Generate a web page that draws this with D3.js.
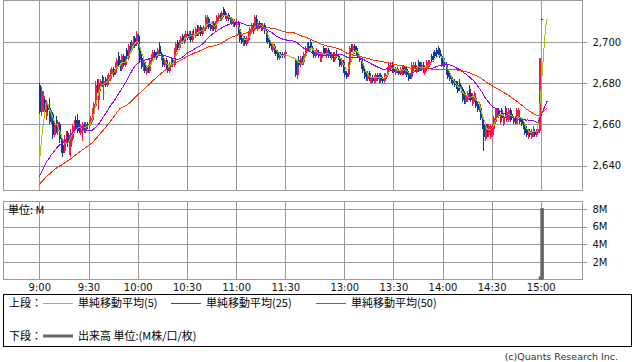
<!DOCTYPE html>
<html>
<head>
<meta charset="utf-8">
<script src="https://cdnjs.cloudflare.com/ajax/libs/d3/7.8.5/d3.min.js"></script>
<style>
body { margin: 0; background: #fff; }
svg text { font-family: "DejaVu Sans", sans-serif; }
.jp { font-family: "Noto Sans CJK JP", sans-serif; }
</style>
</head>
<body>
<div id="chart"></div>
<script>
// closes of the previous session, needed so the averages start at 9:00
var prevCloses = [2626,2627,2625,2626,2628,2627,2626,2625,2626,2627,2628,2627,2626,2627,2628,2626,2625,2626,2627,2628,2629,2628,2627,2628,2629,
	2630,2631,2632,2631,2632,2633,2632,2633,2634,2633,2632,2633,2634,2635,2634,2633,2634,2635,2634,2635,2634,2635,2636,2635];

// morning 1 minute bars 9:00 - 11:30 [open, high, low, close]
var amBars = [
[2679,2680,2665,2666],[2666,2678,2664,2676],[2668,2676,2666,2674],[2672,2673,2664,2666],[2664,2672,2662,2670],
[2669,2670,2666,2667],[2668,2673,2660,2661],[2661,2667,2660,2666],[2665,2666,2653,2655],[2655,2662,2654,2660],
[2662,2664,2656,2657],[2657,2662,2655,2661],[2660,2661,2651,2653],[2653,2654,2646,2648],[2650,2652,2644,2646],
[2647,2655,2646,2653],[2653,2657,2651,2655],[2656,2657,2649,2651],[2650,2655,2645,2653],[2649,2658,2644,2656],
[2653,2660,2652,2659],[2657,2662,2656,2661],[2662,2664,2657,2658],[2662,2665,2656,2657],[2660,2662,2656,2657],
[2656,2660,2655,2659],[2657,2661,2652,2660],[2660,2661,2656,2657],[2657,2661,2656,2660],[2660,2661,2658,2659],
[2659,2662,2658,2661],[2660,2664,2659,2663],[2662,2668,2661,2667],[2665,2671,2664,2670],[2669,2681,2668,2679],
[2681,2682,2675,2676],[2672,2682,2667,2680],[2678,2682,2676,2681],[2683,2684,2678,2679],[2679,2682,2672,2681],
[2682,2683,2678,2679],[2679,2684,2678,2683],[2681,2685,2679,2684],[2682,2687,2681,2686],[2684,2688,2683,2687],
[2687,2688,2683,2684],[2685,2690,2684,2689],[2687,2692,2686,2691],[2693,2695,2688,2689],[2689,2691,2686,2687],
[2687,2694,2686,2693],[2693,2694,2688,2689],[2689,2693,2688,2692],[2696,2697,2691,2692],[2692,2699,2691,2698],
[2699,2700,2695,2696],[2696,2701,2695,2700],[2698,2703,2697,2702],[2702,2703,2697,2698],[2699,2705,2698,2704],
[2703,2704,2696,2697],[2697,2698,2690,2691],[2692,2694,2687,2688],[2688,2692,2686,2691],[2690,2691,2685,2686],
[2685,2689,2684,2688],[2688,2689,2685,2686],[2686,2692,2685,2691],[2690,2694,2689,2693],[2692,2696,2691,2695],
[2695,2696,2691,2692],[2693,2695,2691,2692],[2693,2697,2692,2696],[2698,2700,2693,2694],[2694,2695,2691,2692],
[2693,2694,2688,2689],[2689,2692,2688,2691],[2691,2692,2687,2688],[2688,2689,2685,2686],[2686,2690,2685,2689],
[2689,2692,2688,2691],[2691,2692,2688,2689],[2689,2697,2688,2696],[2695,2700,2694,2699],[2700,2701,2696,2697],
[2697,2701,2696,2700],[2699,2703,2698,2702],[2703,2704,2699,2700],[2700,2704,2699,2703],[2702,2705,2701,2704],
[2704,2705,2701,2702],[2702,2705,2701,2704],[2704,2705,2700,2701],[2701,2705,2700,2704],[2704,2706,2702,2703],
[2703,2707,2702,2706],[2706,2708,2703,2704],[2704,2708,2703,2707],[2707,2708,2703,2704],[2704,2707,2703,2706],
[2705,2708,2704,2707],[2706,2713,2705,2712],[2708,2713,2707,2712],[2711,2712,2706,2707],[2708,2709,2705,2706],
[2706,2710,2705,2709],[2709,2710,2705,2706],[2706,2710,2705,2709],[2709,2713,2708,2712],[2711,2714,2710,2713],
[2713,2714,2710,2711],[2711,2715,2710,2714],[2716,2717,2712,2713],[2714,2715,2711,2712],[2711,2714,2710,2713],
[2713,2714,2710,2711],[2711,2712,2709,2710],[2709,2712,2708,2711],[2709,2711,2707,2710],[2710,2711,2707,2708],
[2708,2711,2707,2709],[2709,2710,2704,2705],[2706,2707,2700,2701],[2702,2704,2699,2700],[2699,2703,2698,2702],
[2702,2703,2698,2699],[2699,2703,2698,2702],[2701,2705,2700,2704],[2703,2707,2702,2706],[2705,2709,2704,2708],
[2708,2709,2704,2705],[2706,2713,2705,2712],[2711,2713,2706,2707],[2706,2710,2705,2709],[2709,2710,2706,2707],
[2708,2709,2705,2706],[2706,2709,2705,2708],[2708,2709,2704,2705],[2705,2706,2700,2701],[2702,2703,2699,2700],
[2700,2701,2697,2698],[2699,2700,2696,2697],[2696,2700,2695,2699],[2698,2699,2694,2695],[2696,2697,2693,2694],
[2695,2696,2691,2692],[2692,2695,2691,2694],[2694,2695,2692,2693],[2694,2695,2692,2693],[2693,2695,2692,2694],
[2694,2696,2693,2695]
];

// afternoon 1 minute bars 12:30 - 15:00
var pmBars = [
[2691,2692,2683,2684],[2684,2690,2682,2689],[2691,2693,2688,2689],[2689,2693,2688,2692],[2692,2693,2689,2690],
[2690,2695,2689,2694],[2693,2698,2692,2697],[2696,2700,2695,2699],[2698,2700,2696,2697],[2700,2701,2696,2697],
[2697,2698,2694,2695],[2695,2696,2692,2693],[2693,2696,2692,2695],[2694,2697,2693,2696],[2695,2696,2692,2693],
[2691,2695,2690,2694],[2692,2695,2690,2694],[2697,2698,2693,2694],[2695,2697,2693,2694],[2693,2697,2692,2696],
[2696,2697,2692,2693],[2694,2695,2692,2693],[2692,2695,2691,2694],[2694,2695,2690,2691],[2691,2695,2690,2694],
[2694,2696,2692,2693],[2693,2694,2691,2692],[2692,2693,2688,2689],[2689,2692,2688,2691],[2690,2691,2685,2686],
[2686,2688,2683,2684],[2685,2686,2682,2683],[2684,2690,2683,2689],[2690,2698,2689,2697],[2698,2699,2695,2696],
[2696,2699,2695,2698],[2698,2699,2694,2695],[2696,2698,2693,2694],[2695,2697,2692,2693],[2693,2694,2690,2691],
[2691,2692,2687,2688],[2689,2690,2685,2686],[2687,2688,2682,2683],[2684,2685,2681,2682],[2682,2686,2681,2685],
[2685,2686,2681,2682],[2680,2684,2680,2683],[2683,2684,2680,2681],[2681,2684,2680,2683],[2681,2685,2680,2684],
[2684,2685,2681,2682],[2681,2685,2680,2684],[2684,2685,2680,2681],[2682,2683,2680,2681],[2681,2685,2680,2684],
[2682,2685,2681,2684],[2684,2688,2683,2687],[2686,2690,2685,2689],[2687,2690,2686,2689],[2689,2690,2685,2686],
[2687,2688,2685,2686],[2685,2688,2684,2687],[2687,2688,2685,2686],[2686,2687,2684,2685],[2685,2688,2684,2687],
[2685,2689,2684,2688],[2688,2689,2684,2685],[2685,2688,2684,2687],[2687,2688,2683,2684],[2685,2686,2681,2682],
[2684,2685,2682,2683],[2683,2690,2682,2689],[2687,2690,2686,2689],[2689,2690,2686,2687],[2686,2689,2685,2688],
[2690,2691,2686,2687],[2689,2690,2686,2687],[2687,2690,2686,2689],[2689,2690,2685,2686],[2685,2689,2684,2688],
[2687,2691,2686,2690],[2688,2691,2687,2690],[2689,2691,2688,2690],[2693,2694,2690,2691],[2694,2695,2690,2692],
[2695,2696,2692,2693],[2696,2697,2692,2694],[2697,2698,2693,2695],[2696,2697,2692,2693],[2693,2694,2688,2689],
[2688,2692,2687,2691],[2690,2692,2688,2689],[2689,2690,2684,2685],[2686,2687,2682,2683],[2684,2685,2681,2682],
[2683,2684,2680,2681],[2682,2683,2679,2680],[2681,2682,2678,2679],[2680,2681,2677,2678],[2679,2681,2675,2676],
[2680,2682,2676,2677],[2676,2679,2675,2678],[2677,2678,2671,2672],[2675,2676,2670,2671],[2671,2675,2670,2674],
[2672,2676,2671,2675],[2676,2679,2672,2673],[2675,2677,2671,2672],[2670,2675,2669,2674],[2672,2676,2671,2675],
[2673,2674,2668,2669],[2670,2671,2666,2667],[2667,2671,2666,2670],[2668,2669,2662,2663],[2663,2664,2658,2659],
[2660,2661,2647,2654],[2653,2661,2652,2660],[2659,2660,2654,2655],[2655,2660,2654,2659],[2654,2660,2653,2659],
[2655,2660,2654,2658],[2658,2664,2657,2663],[2661,2668,2660,2667],[2664,2668,2663,2667],[2667,2668,2663,2664],
[2661,2665,2660,2664],[2667,2668,2662,2663],[2660,2665,2659,2664],[2668,2669,2663,2664],[2662,2667,2661,2666],
[2662,2668,2661,2667],[2667,2668,2661,2662],[2665,2666,2662,2663],[2663,2664,2660,2661],[2663,2664,2660,2661],
[2660,2668,2660,2667],[2664,2668,2663,2667],[2663,2664,2660,2661],[2662,2663,2659,2660],[2661,2662,2658,2659],
[2660,2661,2655,2656],[2658,2659,2654,2655],[2654,2658,2653,2657],[2657,2658,2654,2655],[2654,2658,2653,2657],
[2655,2659,2654,2658],[2657,2658,2654,2655],[2655,2658,2654,2657],[2656,2659,2655,2658],[2657,2692,2656,2692],
[2711,2711,2711,2711]
];

// closes after the closing print (lines only, no candles)
var postCloses = [2711, 2711, 2711, 2711];

var volTimes = ["14:59", "15:00"];
var volValues = [0.35, 8.1];

var timeTicks = ["9:00","9:30","10:00","10:30","11:00","11:30","13:00","13:30","14:00","14:30","15:00"];
var priceTicks = [2640, 2660, 2680, 2700];
var volTicks = [2, 4, 6, 8];
var maLens = [5, 25, 50];
var maColors = ["#99cc00", "#9900ff", "#ff3300"];
var maNames = ["単純移動平均(5)", "単純移動平均(25)", "単純移動平均(50)"];

var width = 638, height = 362;
var left = 3.5, right = 582.5;
var gridColor = "#9a9a9a";

function toMin(s) { var p = s.split(":"); return +p[0] * 60 + +p[1]; }

var bars = [];
amBars.forEach(function(d, i) { bars.push({t: 540 + i, o: d[0], h: d[1], l: d[2], c: d[3]}); });
pmBars.forEach(function(d, i) { bars.push({t: 750 + i, o: d[0], h: d[1], l: d[2], c: d[3]}); });

var lineTimes = bars.map(function(d) { return d.t; })
	.concat(postCloses.map(function(d, i) { return 901 + i; }));
var closes = prevCloses.concat(bars.map(function(d) { return d.c; }), postCloses);

function sma(n) {
	var out = [];
	for (var i = prevCloses.length; i < closes.length; i++) {
		out.push(d3.mean(closes.slice(i - n + 1, i + 1)));
	}
	return out;
}

// lunch break squeezed: 11:30 -> 12:30 is a small gap
var x = d3.scaleLinear()
	.domain([540, 690, 750, 900])
	.range([39.3, 285.3, 295.2, 540.7]);

var y = d3.scaleLinear().domain([2628, 2720]).range([190.5, 0.5]);
var yv = d3.scaleLinear().domain([0, 8.85]).range([279.5, 201.5]);

var svg = d3.select("#chart").append("svg")
	.attr("width", width)
	.attr("height", height)
	.style("background", "#fff");

function crisp(v) { return Math.round(v) + 0.5; }

// ---------- grid ----------
var grid = svg.append("g").attr("stroke", gridColor).attr("stroke-width", 1).attr("shape-rendering", "crispEdges");

timeTicks.forEach(function(t) {
	var gx = crisp(x(toMin(t)));
	grid.append("line").attr("x1", gx).attr("x2", gx).attr("y1", 0.5).attr("y2", 190.5);
	grid.append("line").attr("x1", gx).attr("x2", gx).attr("y1", 201.5).attr("y2", 279.5);
});
priceTicks.forEach(function(p) {
	grid.append("line").attr("x1", left).attr("x2", right).attr("y1", crisp(y(p))).attr("y2", crisp(y(p)));
});
volTicks.forEach(function(v) {
	grid.append("line").attr("x1", left).attr("x2", right).attr("y1", crisp(yv(v))).attr("y2", crisp(yv(v)));
});

grid.append("rect").attr("x", left).attr("y", 0.5).attr("width", right - left).attr("height", 190)
	.attr("fill", "none");
grid.append("rect").attr("x", left).attr("y", 201.5).attr("width", right - left).attr("height", 78)
	.attr("fill", "none");

// ---------- candles ----------
var candle = svg.append("g").attr("shape-rendering", "crispEdges")
	.selectAll("g").data(bars).enter().append("g")
	.attr("fill", function(d) { return d.c > d.o ? "#f0194b" : "#0b3a9a"; })
	.attr("stroke", function(d) { return d.c > d.o ? "#f0194b" : "#0b3a9a"; });

candle.append("line")
	.attr("x1", function(d) { return Math.round(x(d.t)) + 0.5; })
	.attr("x2", function(d) { return Math.round(x(d.t)) + 0.5; })
	.attr("y1", function(d) { return y(d.h); })
	.attr("y2", function(d) { return y(d.l); })
	.attr("stroke-width", 1);

candle.append("rect")
	.attr("stroke", "none")
	.attr("x", function(d) { return Math.round(x(d.t)) - 0.5; })
	.attr("width", 2)
	.attr("y", function(d) { return y(Math.max(d.o, d.c)); })
	.attr("height", function(d) { return Math.max(1, y(Math.min(d.o, d.c)) - y(Math.max(d.o, d.c))); });

// ---------- moving averages ----------
maLens.forEach(function(n, k) {
	var vals = sma(n);
	var line = d3.line()
		.x(function(d, i) { return x(lineTimes[i]); })
		.y(function(d) { return y(d); });
	svg.append("path")
		.datum(vals)
		.attr("d", line)
		.attr("fill", "none")
		.attr("stroke", maColors[k])
		.attr("stroke-width", 1)
		.attr("shape-rendering", "crispEdges");
});

// ---------- volume ----------
svg.append("g").selectAll("rect").data(volValues).enter().append("rect")
	.attr("x", function(d, i) { return x(toMin(volTimes[i])) - 0.4; })
	.attr("width", 3.6)
	.attr("y", function(d) { return yv(d); })
	.attr("height", function(d) { return yv(0) - yv(d); })
	.attr("fill", "#666");

// ---------- axes ----------
var yAxis = svg.append("g")
	.attr("transform", "translate(" + right + ",0)")
	.call(d3.axisRight(y).tickValues(priceTicks).tickFormat(d3.format(",")).tickSize(4).tickPadding(6));
var vAxis = svg.append("g")
	.attr("transform", "translate(" + right + ",0)")
	.call(d3.axisRight(yv).tickValues(volTicks).tickFormat(function(d) { return d + "M"; }).tickSize(4).tickPadding(6));
var xAxis = svg.append("g")
	.attr("transform", "translate(0,279.5)")
	.call(d3.axisBottom(x).tickValues(timeTicks.map(toMin))
		.tickFormat(function(d, i) { return timeTicks[i]; }).tickSize(0).tickPadding(4));

[yAxis, vAxis, xAxis].forEach(function(a) {
	a.select(".domain").remove();
	a.selectAll(".tick line").attr("stroke", gridColor).attr("shape-rendering", "crispEdges");
	a.selectAll("text").attr("font-size", 10).attr("fill", "#111")
		.attr("font-family", "DejaVu Sans, sans-serif");
});

svg.append("text").attr("class", "jp")
	.attr("x", 8).attr("y", 214)
	.attr("font-size", 11).attr("fill", "#000")
	.text("単位: M");

// ---------- legend ----------
var legend = svg.append("g");
legend.append("rect")
	.attr("x", 3.5).attr("y", 294.5).attr("width", 628).attr("height", 52)
	.attr("fill", "none").attr("stroke", "#000").attr("shape-rendering", "crispEdges");

legend.append("text").attr("class", "jp").attr("x", 9).attr("y", 307).attr("font-size", 11).text("上段：");
var legX = [43, 171, 316];
maNames.forEach(function(name, k) {
	legend.append("line")
		.attr("x1", legX[k]).attr("x2", legX[k] + 30).attr("y1", 303.5).attr("y2", 303.5)
		.attr("stroke", maColors[k]).attr("stroke-width", 1);
	legend.append("text").attr("class", "jp")
		.attr("x", legX[k] + 35).attr("y", 307).attr("font-size", 11).text(name);
});

legend.append("text").attr("class", "jp").attr("x", 9).attr("y", 340).attr("font-size", 11).text("下段：");
legend.append("line")
	.attr("x1", 43).attr("x2", 73).attr("y1", 336).attr("y2", 336)
	.attr("stroke", "#666").attr("stroke-width", 3);
legend.append("text").attr("class", "jp")
	.attr("x", 78).attr("y", 340).attr("font-size", 11).text("出来高 単位:(M株/口/枚)");

svg.append("text")
	.attr("x", 618).attr("y", 360)
	.attr("text-anchor", "end")
	.attr("font-size", 9.5).attr("fill", "#333")
	.text("(c)Quants Research Inc.");
</script>
</body>
</html>
